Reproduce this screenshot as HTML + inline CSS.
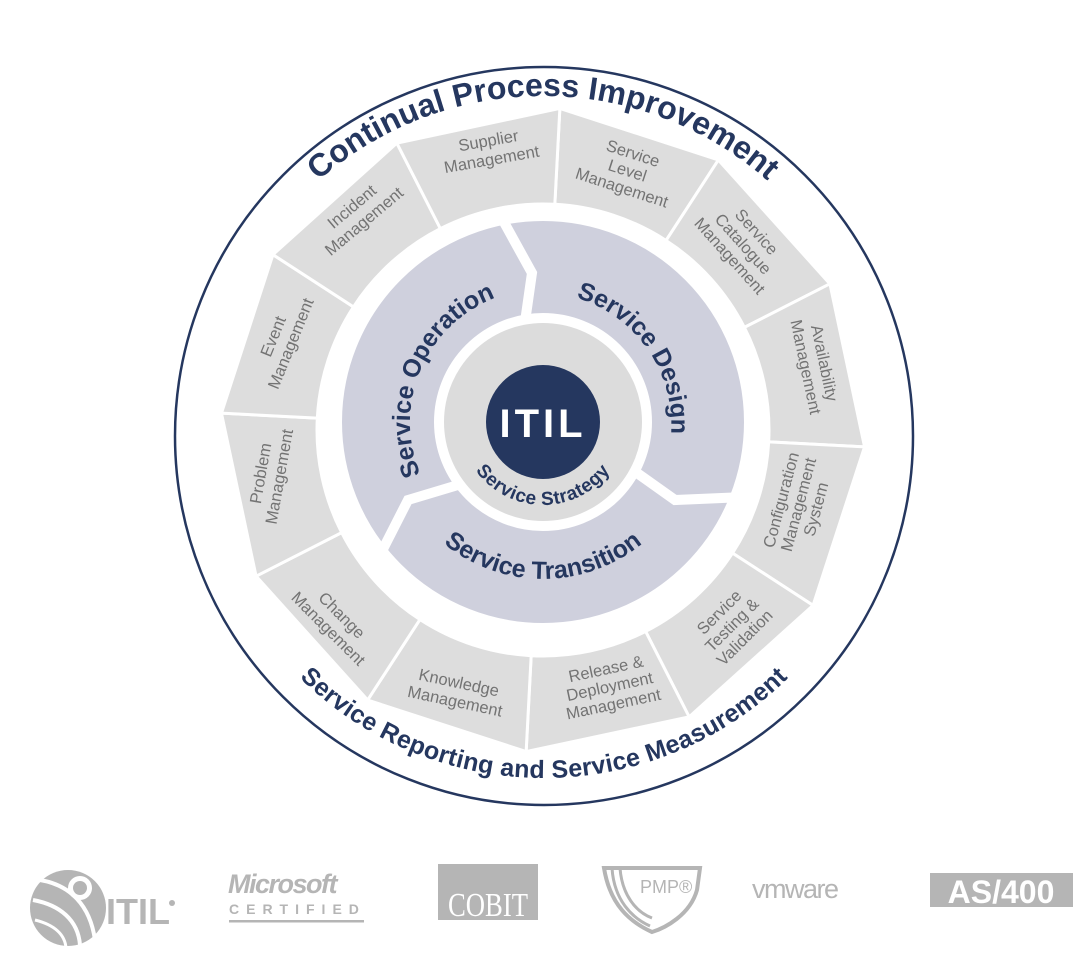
<!DOCTYPE html>
<html><head><meta charset="utf-8"><style>
html,body{margin:0;padding:0;background:#fff;}
svg{display:block;}
.seg{font-family:"Liberation Sans",sans-serif;font-size:16.5px;fill:#737373;text-anchor:middle;}
.big{font-family:"Liberation Sans",sans-serif;font-weight:bold;fill:#25375f;}
</style></head><body>
<svg id="s" width="1092" height="964" viewBox="0 0 1092 964" xmlns="http://www.w3.org/2000/svg">
<circle cx="544" cy="436" r="369" fill="none" stroke="#25375f" stroke-width="2.5"/>
<g id="segs"></g>
<circle cx="543" cy="422" r="155" fill="none" stroke="#cfd0dd" stroke-width="92"/>
<polyline points="500,215 532,273 525,322" fill="none" stroke="#fff" stroke-width="10"/>
<polyline points="637,473 675,500 745,497" fill="none" stroke="#fff" stroke-width="10"/>
<polyline points="458,485 408,500 380,555" fill="none" stroke="#fff" stroke-width="10"/>
<circle cx="543" cy="422" r="104" fill="#fff"/>
<circle cx="543" cy="422" r="99" fill="#dcdcdc"/>
<circle cx="543" cy="422" r="57" fill="#25375f"/>
<text x="543" y="437" text-anchor="middle" font-family="Liberation Sans,sans-serif" font-weight="bold" font-size="40" fill="#fff" letter-spacing="4">ITIL</text>
<defs>
<path id="pOp" d="M491,544.5 A133,133 0 0 1 595,299.5"/>
<path id="pDe" d="M467,313 A133,133 0 0 1 619,531"/>
<path id="pTr" d="M386,422 A157,157 0 0 0 700,422"/>
<path id="pSt" d="M460,422 A83,83 0 0 0 626,422"/>
<path id="pTop" d="M203,436 A340,340 0 0 1 883,436"/>
<path id="pBot" d="M196,430 A348,348 0 0 0 892,430"/>
</defs>
<text class="big" font-size="25"><textPath href="#pOp" startOffset="50%" text-anchor="middle">Service Operation</textPath></text>
<text class="big" font-size="25"><textPath href="#pDe" startOffset="50%" text-anchor="middle">Service Design</textPath></text>
<text class="big" font-size="25"><textPath href="#pTr" startOffset="50%" text-anchor="middle">Service Transition</textPath></text>
<text class="big" font-size="19" letter-spacing="0.5"><textPath href="#pSt" startOffset="50%" text-anchor="middle">Service Strategy</textPath></text>
<text class="big" font-size="32"><textPath href="#pTop" startOffset="50%" text-anchor="middle">Continual Process Improvement</textPath></text>
<text class="big" font-size="25" letter-spacing="0.3"><textPath href="#pBot" startOffset="50%" text-anchor="middle">Service Reporting and Service Measurement</textPath></text>

<g class="seg">
<text transform="translate(490,150) rotate(-10)"><tspan x="0" y="-4">Supplier</tspan><tspan x="0" y="15">Management</tspan></text>
<text transform="translate(627,172) rotate(18)"><tspan x="0" y="-14">Service</tspan><tspan x="0" y="4">Level</tspan><tspan x="0" y="22">Management</tspan></text>
<text transform="translate(742,245) rotate(48)"><tspan x="0" y="-14">Service</tspan><tspan x="0" y="4">Catalogue</tspan><tspan x="0" y="22">Management</tspan></text>
<text transform="translate(815,365) rotate(78)"><tspan x="0" y="-4">Availability</tspan><tspan x="0" y="15">Management</tspan></text>
<text transform="translate(800,505) rotate(-75)"><tspan x="0" y="-14">Configuration</tspan><tspan x="0" y="4">Management</tspan><tspan x="0" y="22">System</tspan></text>
<text transform="translate(733,626) rotate(-45)"><tspan x="0" y="-14">Service</tspan><tspan x="0" y="4">Testing &amp;</tspan><tspan x="0" y="22">Validation</tspan></text>
<text transform="translate(610,688) rotate(-12)"><tspan x="0" y="-14">Release &amp;</tspan><tspan x="0" y="4">Deployment</tspan><tspan x="0" y="22">Management</tspan></text>
<text transform="translate(457,692) rotate(12)"><tspan x="0" y="-4">Knowledge</tspan><tspan x="0" y="15">Management</tspan></text>
<text transform="translate(335,622) rotate(45)"><tspan x="0" y="-4">Change</tspan><tspan x="0" y="15">Management</tspan></text>
<text transform="translate(270,475) rotate(-80)"><tspan x="0" y="-4">Problem</tspan><tspan x="0" y="15">Management</tspan></text>
<text transform="translate(282,340) rotate(-68)"><tspan x="0" y="-4">Event</tspan><tspan x="0" y="15">Management</tspan></text>
<text transform="translate(358,214) rotate(-40)"><tspan x="0" y="-4">Incident</tspan><tspan x="0" y="15">Management</tspan></text>
</g>

<g fill="#b5b5b5" font-family="Liberation Sans,sans-serif">
<circle cx="68" cy="908" r="38" fill="#b5b5b5"/>
<path d="M40,880 C70,885 90,905 95,940" stroke="#fff" stroke-width="4" fill="none"/>
<path d="M33,900 C60,905 78,920 80,945" stroke="#fff" stroke-width="4" fill="none"/>
<path d="M35,920 C55,925 65,935 66,948" stroke="#fff" stroke-width="3" fill="none"/>
<circle cx="80" cy="888" r="12" fill="#fff"/>
<circle cx="80" cy="888" r="7" fill="#b5b5b5"/>
<text x="106" y="924" font-size="36" font-weight="bold">ITIL</text>
<circle cx="172" cy="903" r="3"/>
<text x="228" y="893" font-size="27" font-weight="bold" font-style="italic" letter-spacing="-1.5">Microsoft</text>
<text x="229" y="914" font-size="14" font-weight="bold" letter-spacing="7">CERTIFIED</text>
<rect x="229" y="920" width="135" height="2.5"/>
<rect x="438" y="864" width="100" height="56"/>
<text x="488" y="916" font-size="34" font-family="Liberation Serif,serif" fill="#fff" text-anchor="middle" textLength="80" lengthAdjust="spacingAndGlyphs">COBIT</text>
<path d="M604,868 L700,868 L697,890 C690,915 665,928 652,932 C630,922 610,905 604,868 Z" fill="none" stroke="#b5b5b5" stroke-width="4"/>
<path d="M612,868 C614,900 632,918 650,926" stroke="#b5b5b5" stroke-width="3" fill="none"/>
<path d="M620,868 C622,895 636,912 652,918" stroke="#b5b5b5" stroke-width="3" fill="none"/>
<text x="640" y="893" font-size="18">PMP®</text>
<text x="752" y="898" font-size="27" letter-spacing="-1.5">vmware</text>
<rect x="930" y="873" width="143" height="34"/>
<text x="1001" y="903" font-size="32" font-weight="bold" fill="#fff" text-anchor="middle">AS/400</text>
</g>
</svg>
<script>
(function(){
var g=document.getElementById('segs'),cx=543,cy=430,ro=322,ri=226,ns='http://www.w3.org/2000/svg';
function p(a,r){a=a*Math.PI/180;return [cx+r*Math.sin(a),cy-r*Math.cos(a)];}
for(var k=0;k<12;k++){
 var a0=3+30*k,a1=a0+30;
 var o0=p(a0,ro),o1=p(a1,ro),i0=p(a0,ri),i1=p(a1,ri);
 var d='M'+o0+' L'+o1+' L'+i1+' A'+ri+','+ri+' 0 0 0 '+i0+' Z';
 var e=document.createElementNS(ns,'path');e.setAttribute('d',d);e.setAttribute('fill','#dddddd');e.setAttribute('stroke','#fff');e.setAttribute('stroke-width','3');g.appendChild(e);
}
})();
</script>
</body></html>
